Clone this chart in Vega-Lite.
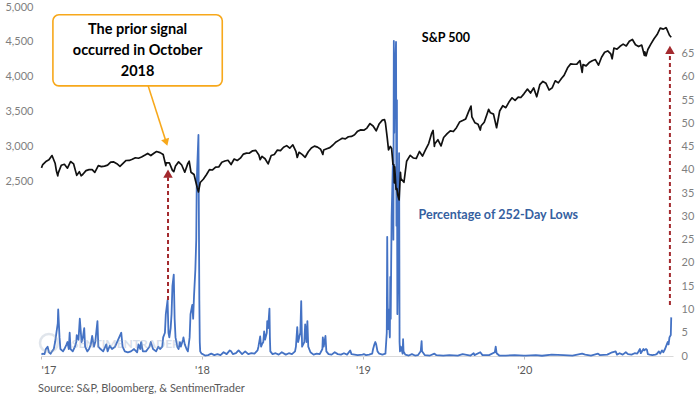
{
  "$schema": "https://vega.github.io/schema/vega-lite/v6.json",
  "width": 632,
  "height": 349,
  "autosize": "none",
  "padding": {"left": 41, "top": 7, "right": 27, "bottom": 38},
  "background": "white",
  "config": {"view": {"stroke": null}, "font": "Lato"},
  "title": {"text": "Source: S&P, Bloomberg, & SentimenTrader", "orient": "bottom", "anchor": "start", "frame": "group", "fontSize": 11, "fontWeight": "normal", "color": "#595959", "offset": 8, "dx": -3, "font": "Lato"},
  "datasets": {
    "spx": [
      {"date":"2018-01-02","v":2695},{"date":"2018-01-05","v":2743},{"date":"2018-01-12","v":2786},{"date":"2018-01-19","v":2810},{"date":"2018-01-26","v":2872},{"date":"2018-02-02","v":2762},{"date":"2018-02-05","v":2649},{"date":"2018-02-08","v":2581},{"date":"2018-02-09","v":2620},{"date":"2018-02-16","v":2732},{"date":"2018-02-23","v":2747},{"date":"2018-03-02","v":2691},{"date":"2018-03-09","v":2786},{"date":"2018-03-16","v":2752},{"date":"2018-03-23","v":2588},{"date":"2018-03-29","v":2640},{"date":"2018-04-02","v":2582},{"date":"2018-04-06","v":2604},{"date":"2018-04-13","v":2656},{"date":"2018-04-20","v":2670},{"date":"2018-04-27","v":2670},{"date":"2018-05-03","v":2630},{"date":"2018-05-11","v":2728},{"date":"2018-05-18","v":2713},{"date":"2018-05-25","v":2721},{"date":"2018-06-01","v":2735},{"date":"2018-06-08","v":2779},{"date":"2018-06-15","v":2780},{"date":"2018-06-22","v":2755},{"date":"2018-06-29","v":2718},{"date":"2018-07-06","v":2760},{"date":"2018-07-13","v":2801},{"date":"2018-07-20","v":2802},{"date":"2018-07-27","v":2819},{"date":"2018-08-03","v":2840},{"date":"2018-08-10","v":2833},{"date":"2018-08-17","v":2850},{"date":"2018-08-24","v":2875},{"date":"2018-08-31","v":2902},{"date":"2018-09-07","v":2872},{"date":"2018-09-14","v":2905},{"date":"2018-09-20","v":2930},{"date":"2018-09-28","v":2914},{"date":"2018-10-05","v":2886},{"date":"2018-10-11","v":2728},{"date":"2018-10-12","v":2767},{"date":"2018-10-19","v":2768},{"date":"2018-10-26","v":2659},{"date":"2018-10-29","v":2641},{"date":"2018-11-02","v":2723},{"date":"2018-11-09","v":2781},{"date":"2018-11-16","v":2736},{"date":"2018-11-23","v":2633},{"date":"2018-11-30","v":2760},{"date":"2018-12-03","v":2790},{"date":"2018-12-07","v":2633},{"date":"2018-12-14","v":2600},{"date":"2018-12-21","v":2417},{"date":"2018-12-24","v":2351},{"date":"2018-12-28","v":2486},
      {"date":"2019-01-04","v":2532},{"date":"2019-01-11","v":2596},{"date":"2019-01-18","v":2671},{"date":"2019-01-25","v":2665},{"date":"2019-02-01","v":2707},{"date":"2019-02-08","v":2708},{"date":"2019-02-15","v":2776},{"date":"2019-02-22","v":2793},{"date":"2019-03-01","v":2804},{"date":"2019-03-08","v":2743},{"date":"2019-03-15","v":2822},{"date":"2019-03-22","v":2801},{"date":"2019-03-29","v":2834},{"date":"2019-04-05","v":2893},{"date":"2019-04-12","v":2907},{"date":"2019-04-18","v":2905},{"date":"2019-04-26","v":2940},{"date":"2019-05-03","v":2946},{"date":"2019-05-10","v":2881},{"date":"2019-05-13","v":2812},{"date":"2019-05-17","v":2860},{"date":"2019-05-24","v":2826},{"date":"2019-05-31","v":2752},{"date":"2019-06-07","v":2873},{"date":"2019-06-14","v":2887},{"date":"2019-06-21","v":2950},{"date":"2019-06-28","v":2942},{"date":"2019-07-05","v":2990},{"date":"2019-07-12","v":3014},{"date":"2019-07-19","v":2977},{"date":"2019-07-26","v":3026},{"date":"2019-08-02","v":2932},{"date":"2019-08-05","v":2844},{"date":"2019-08-09","v":2919},{"date":"2019-08-16","v":2889},{"date":"2019-08-23","v":2847},{"date":"2019-08-30","v":2926},{"date":"2019-09-06","v":2979},{"date":"2019-09-13","v":3007},{"date":"2019-09-20","v":2992},{"date":"2019-09-27","v":2962},{"date":"2019-10-02","v":2887},{"date":"2019-10-04","v":2952},{"date":"2019-10-11","v":2970},{"date":"2019-10-18","v":2986},{"date":"2019-10-25","v":3023},{"date":"2019-11-01","v":3067},{"date":"2019-11-08","v":3093},{"date":"2019-11-15","v":3120},{"date":"2019-11-22","v":3110},{"date":"2019-11-29","v":3141},{"date":"2019-12-06","v":3146},{"date":"2019-12-13","v":3169},{"date":"2019-12-20","v":3221},{"date":"2019-12-27","v":3240},
      {"date":"2020-01-03","v":3235},{"date":"2020-01-10","v":3265},{"date":"2020-01-17","v":3330},{"date":"2020-01-24","v":3295},{"date":"2020-01-31","v":3226},{"date":"2020-02-07","v":3328},{"date":"2020-02-14","v":3380},{"date":"2020-02-19","v":3386},{"date":"2020-02-21","v":3338},{"date":"2020-02-25","v":3128},{"date":"2020-02-28","v":2954},{"date":"2020-03-03","v":3003},{"date":"2020-03-06","v":2972},{"date":"2020-03-09","v":2747},{"date":"2020-03-11","v":2741},{"date":"2020-03-12","v":2481},{"date":"2020-03-13","v":2711},{"date":"2020-03-16","v":2386},{"date":"2020-03-18","v":2398},{"date":"2020-03-20","v":2305},{"date":"2020-03-23","v":2237},{"date":"2020-03-26","v":2630},{"date":"2020-03-27","v":2541},{"date":"2020-04-03","v":2489},{"date":"2020-04-09","v":2790},{"date":"2020-04-17","v":2875},{"date":"2020-04-24","v":2837},{"date":"2020-05-01","v":2831},{"date":"2020-05-08","v":2930},{"date":"2020-05-15","v":2864},{"date":"2020-05-22","v":2955},{"date":"2020-05-29","v":3044},{"date":"2020-06-05","v":3194},{"date":"2020-06-08","v":3232},{"date":"2020-06-11","v":3002},{"date":"2020-06-12","v":3041},{"date":"2020-06-19","v":3098},{"date":"2020-06-26","v":3009},{"date":"2020-07-02","v":3130},{"date":"2020-07-10","v":3185},{"date":"2020-07-17","v":3225},{"date":"2020-07-24","v":3216},{"date":"2020-07-31","v":3271},{"date":"2020-08-07","v":3351},{"date":"2020-08-14","v":3373},{"date":"2020-08-21","v":3397},{"date":"2020-08-28","v":3508},{"date":"2020-09-02","v":3580},{"date":"2020-09-04","v":3427},{"date":"2020-09-11","v":3341},{"date":"2020-09-18","v":3319},{"date":"2020-09-23","v":3237},{"date":"2020-09-25","v":3298},{"date":"2020-10-02","v":3348},{"date":"2020-10-09","v":3477},{"date":"2020-10-12","v":3535},{"date":"2020-10-16","v":3484},{"date":"2020-10-23","v":3465},{"date":"2020-10-30","v":3270},{"date":"2020-11-06","v":3510},{"date":"2020-11-13","v":3585},{"date":"2020-11-20","v":3558},{"date":"2020-11-27","v":3638},{"date":"2020-12-04","v":3699},{"date":"2020-12-11","v":3663},{"date":"2020-12-18","v":3709},{"date":"2020-12-24","v":3703},{"date":"2020-12-31","v":3756},
      {"date":"2021-01-08","v":3824},{"date":"2021-01-15","v":3768},{"date":"2021-01-22","v":3841},{"date":"2021-01-29","v":3714},{"date":"2021-02-05","v":3887},{"date":"2021-02-12","v":3934},{"date":"2021-02-19","v":3907},{"date":"2021-02-26","v":3811},{"date":"2021-03-05","v":3842},{"date":"2021-03-12","v":3943},{"date":"2021-03-19","v":3913},{"date":"2021-03-26","v":3975},{"date":"2021-04-01","v":4020},{"date":"2021-04-09","v":4129},{"date":"2021-04-16","v":4185},{"date":"2021-04-23","v":4180},{"date":"2021-04-30","v":4181},{"date":"2021-05-07","v":4233},{"date":"2021-05-12","v":4063},{"date":"2021-05-14","v":4174},{"date":"2021-05-21","v":4156},{"date":"2021-05-28","v":4204},{"date":"2021-06-04","v":4230},{"date":"2021-06-11","v":4247},{"date":"2021-06-18","v":4166},{"date":"2021-06-25","v":4281},{"date":"2021-07-02","v":4352},{"date":"2021-07-09","v":4370},{"date":"2021-07-16","v":4327},{"date":"2021-07-19","v":4258},{"date":"2021-07-23","v":4412},{"date":"2021-07-30","v":4395},{"date":"2021-08-06","v":4437},{"date":"2021-08-13","v":4468},{"date":"2021-08-20","v":4442},{"date":"2021-08-27","v":4509},{"date":"2021-09-03","v":4535},{"date":"2021-09-10","v":4459},{"date":"2021-09-17","v":4433},{"date":"2021-09-24","v":4455},{"date":"2021-09-30","v":4308},{"date":"2021-10-01","v":4357},{"date":"2021-10-04","v":4300},{"date":"2021-10-08","v":4391},{"date":"2021-10-15","v":4471},{"date":"2021-10-22","v":4545},{"date":"2021-10-29","v":4605},{"date":"2021-11-05","v":4697},{"date":"2021-11-12","v":4683},{"date":"2021-11-18","v":4704},{"date":"2021-11-19","v":4698},{"date":"2021-11-26","v":4595},{"date":"2021-11-30","v":4567}
    ],
    "lows": [
      {"date":"2018-01-02","p":0.3},{"date":"2018-01-05","p":0.5},{"date":"2018-01-09","p":0.4},{"date":"2018-01-12","p":1.5},{"date":"2018-01-16","p":2},{"date":"2018-01-19","p":0.8},{"date":"2018-01-23","p":0.5},{"date":"2018-01-26","p":1},{"date":"2018-01-30","p":1.5},{"date":"2018-02-02","p":3},{"date":"2018-02-05","p":5},{"date":"2018-02-08","p":7},{"date":"2018-02-09","p":10},{"date":"2018-02-12","p":4},{"date":"2018-02-14","p":1.5},{"date":"2018-02-20","p":1},{"date":"2018-02-23","p":1.5},{"date":"2018-02-28","p":2.5},{"date":"2018-03-02","p":3},{"date":"2018-03-05","p":1.5},{"date":"2018-03-07","p":5},{"date":"2018-03-09","p":1.5},{"date":"2018-03-14","p":1},{"date":"2018-03-19","p":2},{"date":"2018-03-22","p":3},{"date":"2018-03-23","p":4.5},{"date":"2018-03-27","p":3.5},{"date":"2018-03-30","p":8},{"date":"2018-04-03","p":3},{"date":"2018-04-06","p":4},{"date":"2018-04-09","p":6},{"date":"2018-04-11","p":2},{"date":"2018-04-16","p":1},{"date":"2018-04-20","p":1.5},{"date":"2018-04-24","p":2.5},{"date":"2018-04-27","p":4.3},{"date":"2018-05-01","p":2},{"date":"2018-05-04","p":3},{"date":"2018-05-09","p":7.5},{"date":"2018-05-11","p":2},{"date":"2018-05-16","p":1.5},{"date":"2018-05-22","p":1},{"date":"2018-05-29","p":2.5},{"date":"2018-06-01","p":1},{"date":"2018-06-06","p":2.2},{"date":"2018-06-11","p":1.5},{"date":"2018-06-18","p":2},{"date":"2018-06-25","p":3.5},{"date":"2018-07-02","p":5},{"date":"2018-07-05","p":2},{"date":"2018-07-10","p":1},{"date":"2018-07-17","p":0.8},{"date":"2018-07-24","p":1},{"date":"2018-07-31","p":1.5},{"date":"2018-08-07","p":0.8},{"date":"2018-08-10","p":2.5},{"date":"2018-08-14","p":1.5},{"date":"2018-08-16","p":3},{"date":"2018-08-20","p":1},{"date":"2018-08-27","p":1},{"date":"2018-08-31","p":1.5},{"date":"2018-09-04","p":2},{"date":"2018-09-07","p":3},{"date":"2018-09-12","p":1.5},{"date":"2018-09-19","p":1},{"date":"2018-09-24","p":2},{"date":"2018-09-28","p":1.5},{"date":"2018-10-03","p":2},{"date":"2018-10-05","p":4},{"date":"2018-10-09","p":5},{"date":"2018-10-11","p":9},{"date":"2018-10-15","p":12},{"date":"2018-10-17","p":5},{"date":"2018-10-19","p":4},{"date":"2018-10-22","p":6},{"date":"2018-10-24","p":9},{"date":"2018-10-26","p":15},{"date":"2018-10-29","p":17.5},{"date":"2018-10-31","p":8},{"date":"2018-11-02","p":4},{"date":"2018-11-06","p":2},{"date":"2018-11-09","p":1.5},{"date":"2018-11-12","p":3},{"date":"2018-11-14","p":2},{"date":"2018-11-19","p":3.5},{"date":"2018-11-20","p":4},{"date":"2018-11-23","p":2.5},{"date":"2018-11-27","p":1.5},{"date":"2018-11-30","p":1},{"date":"2018-12-04","p":4},{"date":"2018-12-06","p":9},{"date":"2018-12-10","p":11},{"date":"2018-12-12","p":8},{"date":"2018-12-14","p":13},{"date":"2018-12-17","p":18.6},{"date":"2018-12-19","p":25},{"date":"2018-12-20","p":36},{"date":"2018-12-21","p":40},{"date":"2018-12-24","p":47.5},{"date":"2018-12-26","p":12},{"date":"2018-12-27","p":3},{"date":"2018-12-28","p":1},{"date":"2018-12-31","p":0.5},
      {"date":"2019-01-03","p":0.4},{"date":"2019-01-08","p":0.1},{"date":"2019-01-15","p":0.2},{"date":"2019-01-22","p":0.5},{"date":"2019-01-29","p":0.2},{"date":"2019-02-05","p":0.4},{"date":"2019-02-12","p":0.2},{"date":"2019-02-19","p":0.8},{"date":"2019-02-26","p":0.4},{"date":"2019-03-05","p":1.2},{"date":"2019-03-08","p":1},{"date":"2019-03-12","p":0.4},{"date":"2019-03-19","p":0.6},{"date":"2019-03-25","p":1.2},{"date":"2019-04-02","p":0.4},{"date":"2019-04-09","p":1},{"date":"2019-04-16","p":0.4},{"date":"2019-04-23","p":0.6},{"date":"2019-04-30","p":0.5},{"date":"2019-05-07","p":1.2},{"date":"2019-05-09","p":2},{"date":"2019-05-13","p":4.2},{"date":"2019-05-15","p":2},{"date":"2019-05-17","p":2.5},{"date":"2019-05-20","p":3},{"date":"2019-05-22","p":5.3},{"date":"2019-05-24","p":3.5},{"date":"2019-05-28","p":5},{"date":"2019-05-29","p":7.5},{"date":"2019-05-31","p":6},{"date":"2019-06-03","p":10.2},{"date":"2019-06-04","p":4},{"date":"2019-06-05","p":1},{"date":"2019-06-10","p":0.4},{"date":"2019-06-17","p":0.6},{"date":"2019-06-24","p":0.3},{"date":"2019-07-01","p":0.8},{"date":"2019-07-10","p":0.3},{"date":"2019-07-17","p":0.6},{"date":"2019-07-24","p":0.4},{"date":"2019-07-31","p":1},{"date":"2019-08-02","p":2},{"date":"2019-08-05","p":6.2},{"date":"2019-08-07","p":3},{"date":"2019-08-12","p":5},{"date":"2019-08-14","p":11.8},{"date":"2019-08-16","p":2},{"date":"2019-08-21","p":3},{"date":"2019-08-23","p":6.8},{"date":"2019-08-26","p":3},{"date":"2019-08-28","p":7.5},{"date":"2019-08-30","p":2},{"date":"2019-09-04","p":0.8},{"date":"2019-09-11","p":0.3},{"date":"2019-09-18","p":0.5},{"date":"2019-09-25","p":0.4},{"date":"2019-10-01","p":1.5},{"date":"2019-10-02","p":4},{"date":"2019-10-04","p":2},{"date":"2019-10-08","p":4.3},{"date":"2019-10-10","p":1},{"date":"2019-10-15","p":0.4},{"date":"2019-10-22","p":0.3},{"date":"2019-10-29","p":0.8},{"date":"2019-11-05","p":0.4},{"date":"2019-11-12","p":0.3},{"date":"2019-11-19","p":0.6},{"date":"2019-11-26","p":0.3},{"date":"2019-12-03","p":1.2},{"date":"2019-12-06","p":0.4},{"date":"2019-12-13","p":0.3},{"date":"2019-12-20","p":0.2},{"date":"2019-12-31","p":0.3},
      {"date":"2020-01-03","p":0.4},{"date":"2020-01-08","p":0.2},{"date":"2020-01-15","p":0.3},{"date":"2020-01-22","p":0.5},{"date":"2020-01-24","p":1.5},{"date":"2020-01-27","p":2.5},{"date":"2020-01-29","p":3},{"date":"2020-01-31","p":2.5},{"date":"2020-02-03","p":1},{"date":"2020-02-07","p":0.5},{"date":"2020-02-14","p":0.3},{"date":"2020-02-21","p":0.5},{"date":"2020-02-24","p":5},{"date":"2020-02-25","p":25.6},{"date":"2020-02-26","p":12},{"date":"2020-02-27","p":5.8},{"date":"2020-02-28","p":10},{"date":"2020-03-02","p":4},{"date":"2020-03-03","p":17},{"date":"2020-03-04","p":8},{"date":"2020-03-05","p":20},{"date":"2020-03-06","p":30},{"date":"2020-03-09","p":42},{"date":"2020-03-10","p":25},{"date":"2020-03-11","p":67.7},{"date":"2020-03-12","p":48},{"date":"2020-03-13","p":58},{"date":"2020-03-16","p":67.5},{"date":"2020-03-17","p":28},{"date":"2020-03-18","p":55},{"date":"2020-03-19","p":9},{"date":"2020-03-20","p":16},{"date":"2020-03-23","p":43.6},{"date":"2020-03-24","p":3},{"date":"2020-03-25","p":1},{"date":"2020-03-27","p":2},{"date":"2020-03-31","p":0.5},{"date":"2020-04-01","p":3.6},{"date":"2020-04-02","p":1},{"date":"2020-04-06","p":0.3},{"date":"2020-04-14","p":0.1},{"date":"2020-04-21","p":0.4},{"date":"2020-04-28","p":0.1},{"date":"2020-05-05","p":0.2},{"date":"2020-05-11","p":1},{"date":"2020-05-13","p":3.2},{"date":"2020-05-14","p":1},{"date":"2020-05-20","p":0.2},{"date":"2020-06-01","p":0.1},{"date":"2020-06-11","p":0.5},{"date":"2020-06-15","p":0.2},{"date":"2020-07-01","p":0.1},{"date":"2020-07-15","p":0.2},{"date":"2020-08-03","p":0.1},{"date":"2020-08-14","p":0.4},{"date":"2020-09-01","p":0.1},{"date":"2020-09-08","p":0.6},{"date":"2020-09-10","p":0.2},{"date":"2020-09-23","p":0.8},{"date":"2020-09-28","p":0.2},{"date":"2020-10-13","p":0.2},{"date":"2020-10-26","p":0.8},{"date":"2020-10-28","p":2},{"date":"2020-10-30","p":0.6},{"date":"2020-11-05","p":0.1},{"date":"2020-11-20","p":0.1},{"date":"2020-12-10","p":0.2},{"date":"2020-12-31","p":0.1},
      {"date":"2021-01-04","p":0.1},{"date":"2021-01-27","p":0.2},{"date":"2021-02-10","p":0.05},{"date":"2021-03-04","p":0.3},{"date":"2021-03-31","p":0.2},{"date":"2021-04-20","p":0.1},{"date":"2021-05-12","p":0.5},{"date":"2021-05-19","p":0.3},{"date":"2021-06-01","p":0.1},{"date":"2021-06-17","p":0.5},{"date":"2021-06-21","p":0.2},{"date":"2021-07-08","p":0.3},{"date":"2021-07-19","p":0.8},{"date":"2021-07-27","p":1},{"date":"2021-07-30","p":0.3},{"date":"2021-08-05","p":0.6},{"date":"2021-08-12","p":0.3},{"date":"2021-08-19","p":0.8},{"date":"2021-08-24","p":0.4},{"date":"2021-09-01","p":0.3},{"date":"2021-09-08","p":0.6},{"date":"2021-09-14","p":0.5},{"date":"2021-09-20","p":1.5},{"date":"2021-09-22","p":0.6},{"date":"2021-09-28","p":1.5},{"date":"2021-09-30","p":1.2},{"date":"2021-10-04","p":1.5},{"date":"2021-10-06","p":1.3},{"date":"2021-10-08","p":0.4},{"date":"2021-10-12","p":0.3},{"date":"2021-10-18","p":0.2},{"date":"2021-10-25","p":0.3},{"date":"2021-10-28","p":0.4},{"date":"2021-11-02","p":1},{"date":"2021-11-05","p":0.5},{"date":"2021-11-09","p":1.2},{"date":"2021-11-12","p":0.8},{"date":"2021-11-16","p":1.5},{"date":"2021-11-18","p":2},{"date":"2021-11-22","p":3},{"date":"2021-11-24","p":2.5},{"date":"2021-11-26","p":4},{"date":"2021-11-29","p":4.5},{"date":"2021-11-30","p":8.3}
    ]
  },
  "layer": [
    {
      "data": {"name": "lows"},
      "mark": {"type": "line", "color": "#4472C4", "strokeWidth": 1.8, "strokeJoin": "round"},
      "encoding": {
        "x": {"field": "date", "type": "temporal", "title": null,
              "scale": {"domain": [{"year": 2018, "month": 1, "date": 1}, {"year": 2021, "month": 12, "date": 4}]},
              "axis": {"tickCount": {"interval": "year", "step": 1}, "labelExpr": "\"'\" + (year(datum.value) - 2001)", "grid": false, "domainColor": "#d9d9d9", "tickColor": "#bfbfbf", "tickSize": 3, "labelColor": "#595959", "labelFontSize": 11, "labelPadding": 5, "labelFont": "Lato"}},
        "y": {"field": "p", "type": "quantitative", "title": null,
              "scale": {"domain": [0, 75], "nice": false},
              "axis": {"orient": "right", "values": [0,5,10,15,20,25,30,35,40,45,50,55,60,65], "grid": false, "domain": false, "ticks": false, "labelPadding": 8, "labelColor": "#7f7f7f", "labelFontSize": 11, "labelFont": "Lato"}}
      }
    },
    {
      "layer": [
        {
          "data": {"name": "spx"},
          "mark": {"type": "line", "color": "#111111", "strokeWidth": 1.7, "strokeJoin": "round"},
          "encoding": {
            "x": {"field": "date", "type": "temporal", "title": null},
            "y": {"field": "v", "type": "quantitative", "title": null,
                  "scale": {"domain": [0, 5000], "nice": false},
                  "axis": {"orient": "left", "values": [2500,3000,3500,4000,4500,5000], "labelExpr": "format(datum.value, ',')", "grid": false, "domain": false, "ticks": false, "labelPadding": 8, "labelColor": "#7f7f7f", "labelFontSize": 11, "labelFont": "Lato"}}
          }
        },
        {
          "data": {"values": [{"date": "2018-03-12", "v": 172, "t": "SENTIMENTRADER"}]},
          "mark": {"type": "text", "align": "left", "baseline": "middle", "fontSize": 12, "color": "#8ea3c4", "opacity": 0.35, "fontWeight": "bold"},
          "encoding": {
            "x": {"field": "date", "type": "temporal", "title": null},
            "y": {"field": "v", "type": "quantitative", "title": null},
            "text": {"field": "t"}
          }
        },
        {
          "data": {"values": [{"date": "2018-01-19", "v": 186}]},
          "mark": {"type": "point", "shape": "circle", "size": 320, "strokeWidth": 2.5, "color": "#9aaac0", "opacity": 0.3, "filled": false},
          "encoding": {
            "x": {"field": "date", "type": "temporal", "title": null},
            "y": {"field": "v", "type": "quantitative", "title": null}
          }
        },
        {
          "data": {"values": [{"start": "2018-01-28", "end": "2019-02-16", "top": 4888, "bottom": 3870}]},
          "mark": {"type": "rect", "fill": "white", "stroke": "#F7A81B", "strokeWidth": 1.6, "cornerRadius": 6},
          "encoding": {
            "x": {"field": "start", "type": "temporal", "title": null},
            "x2": {"field": "end"},
            "y": {"field": "top", "type": "quantitative", "title": null},
            "y2": {"field": "bottom"}
          }
        },
        {
          "data": {"values": [{"date": "2018-08-08", "v": 4673, "t": ["The prior signal", "occurred in October", "2018"]}]},
          "mark": {"type": "text", "align": "center", "baseline": "middle", "fontSize": 14.5, "fontWeight": "bold", "color": "#000000", "lineHeight": 21, "font": "Lato"},
          "encoding": {
            "x": {"field": "date", "type": "temporal", "title": null},
            "y": {"field": "v", "type": "quantitative", "title": null},
            "text": {"field": "t"}
          }
        },
        {
          "data": {"values": [{"d1": "2018-09-01", "v1": 3870, "d2": "2018-10-11", "v2": 3080}]},
          "mark": {"type": "rule", "color": "#F7A81B", "strokeWidth": 1.6},
          "encoding": {
            "x": {"field": "d1", "type": "temporal", "title": null},
            "x2": {"field": "d2"},
            "y": {"field": "v1", "type": "quantitative", "title": null},
            "y2": {"field": "v2"}
          }
        },
        {
          "data": {"values": [{"date": "2018-10-12", "v": 3060}]},
          "mark": {"type": "point", "shape": "triangle-down", "filled": true, "size": 70, "angle": -18, "color": "#F7A81B", "opacity": 1},
          "encoding": {
            "x": {"field": "date", "type": "temporal", "title": null},
            "y": {"field": "v", "type": "quantitative", "title": null}
          }
        },
        {
          "data": {"values": [{"date": "2018-10-16", "v1": 803, "v2": 2560}, {"date": "2021-11-27", "v1": 731, "v2": 4330}]},
          "mark": {"type": "rule", "color": "#A32A2E", "strokeWidth": 2, "strokeDash": [4, 3]},
          "encoding": {
            "x": {"field": "date", "type": "temporal", "title": null},
            "y": {"field": "v1", "type": "quantitative", "title": null},
            "y2": {"field": "v2"}
          }
        },
        {
          "data": {"values": [{"date": "2018-10-16", "v": 2612}, {"date": "2021-11-27", "v": 4386}]},
          "mark": {"type": "point", "shape": "triangle-up", "filled": true, "size": 90, "color": "#A32A2E", "opacity": 1},
          "encoding": {
            "x": {"field": "date", "type": "temporal", "title": null},
            "y": {"field": "v", "type": "quantitative", "title": null}
          }
        },
        {
          "data": {"values": [{"date": "2020-07-07", "v": 4558, "t": "S&P 500"}]},
          "mark": {"type": "text", "align": "center", "baseline": "middle", "fontSize": 12.5, "fontWeight": "bold", "color": "#000000", "font": "Lato"},
          "encoding": {
            "x": {"field": "date", "type": "temporal", "title": null},
            "y": {"field": "v", "type": "quantitative", "title": null},
            "text": {"field": "t"}
          }
        },
        {
          "data": {"values": [{"date": "2020-05-06", "v": 2021, "t": "Percentage of 252-Day Lows"}]},
          "mark": {"type": "text", "align": "left", "baseline": "middle", "fontSize": 12.5, "fontWeight": "bold", "color": "#3560A0", "font": "Lato"},
          "encoding": {
            "x": {"field": "date", "type": "temporal", "title": null},
            "y": {"field": "v", "type": "quantitative", "title": null},
            "text": {"field": "t"}
          }
        }
      ]
    }
  ],
  "resolve": {"scale": {"y": "independent"}}
}
